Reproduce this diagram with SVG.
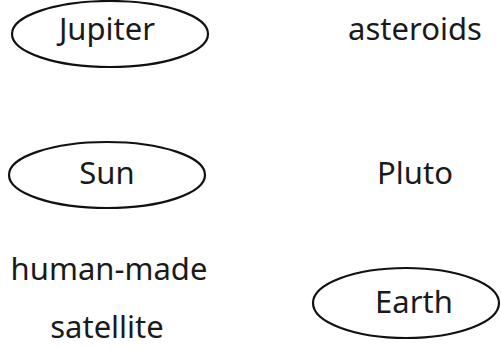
<svg xmlns="http://www.w3.org/2000/svg" width="501" height="348" viewBox="0 0 501 348">
<style>
.oval{fill:none;stroke:#111;stroke-width:2.2}
.t{font-family:"Noto Sans","DejaVu Sans",sans-serif;font-size:31px;fill:#1a1a1a;text-anchor:middle}
</style>
<rect width="501" height="348" fill="#fff"/>
<g id="connectors"></g>
<g id="jupiter"><ellipse class="oval" cx="110" cy="34" rx="98" ry="33"/><text class="t" x="107" y="40">Jupiter</text></g>
<g id="asteroids"><text class="t" x="415" y="40">asteroids</text></g>
<g id="sun"><ellipse class="oval" cx="107" cy="175" rx="98" ry="33"/><text class="t" x="107" y="184">Sun</text></g>
<g id="pluto"><text class="t" x="415" y="184">Pluto</text></g>
<g id="satellite"><text class="t" x="109" y="280">human-made</text><text class="t" x="107" y="338">satellite</text></g>
<g id="earth"><ellipse class="oval" cx="406" cy="303" rx="93" ry="35"/><text class="t" x="414" y="313">Earth</text></g>
</svg>
